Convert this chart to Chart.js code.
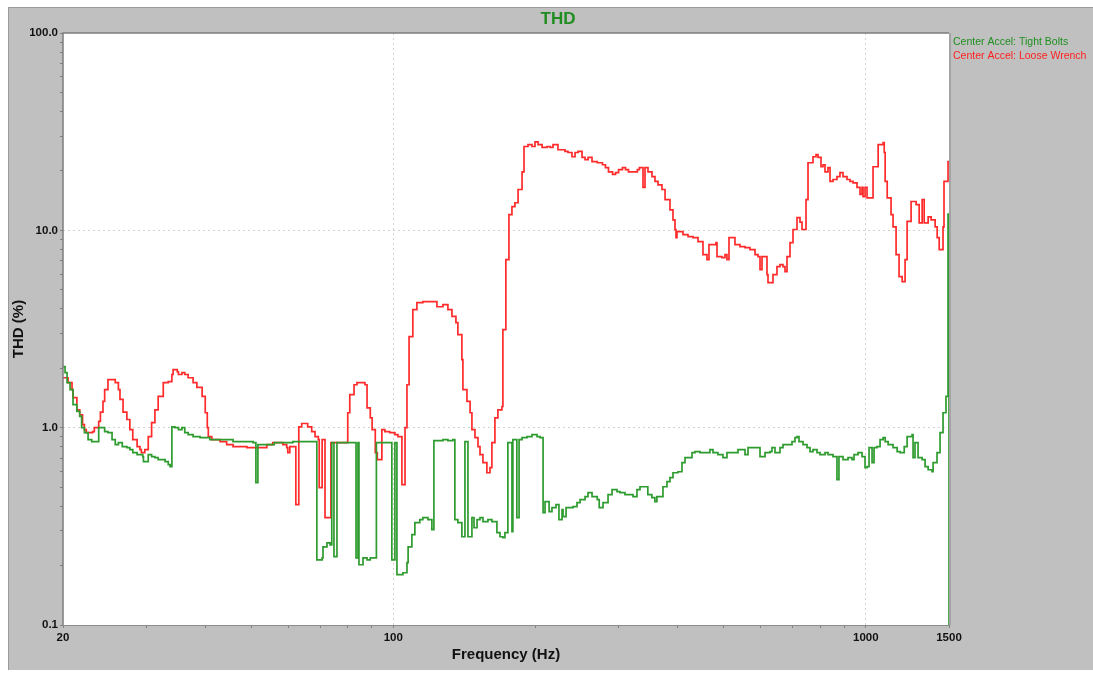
<!DOCTYPE html>
<html><head><meta charset="utf-8">
<script src="https://cdn.jsdelivr.net/npm/chart.js@4.4.1/dist/chart.umd.min.js"></script>
<style>html,body{margin:0;padding:0;background:#fff;overflow:hidden}#wrap{position:relative;width:1093px;height:674px}</style>
</head><body><div id="wrap"><canvas id="c" width="1093" height="674"></canvas></div>
<script>
const chartTitle = 'THD';
const xAxisTitle = 'Frequency (Hz)';
const yAxisTitle = 'THD (%)';
const seriesNames = ['Center Accel: Tight Bolts', 'Center Accel: Loose Wrench'];

const greenFreq = [20.0,20.2,20.4,20.7,21.0,21.4,21.7,21.9,22.2,22.6,23.0,23.8,24.5,24.9,25.4,25.8,26.2,26.7,27.3,27.7,28.1,28.7,29.5,29.6,30.3,30.8,31.3,31.8,32.9,33.4,33.7,34.0,34.5,35.1,35.7,36.2,36.8,37.7,39.0,40.9,45.8,50.5,51.2,51.7,56.0,61.3,68.9,70.7,71.0,72.4,73.5,74.1,74.9,76.0,83.4,84.2,84.6,86.3,88.0,89.4,92.1,99.3,100.8,101.8,104.8,106.9,107.5,109.5,111.1,113.8,115.5,118.4,120.7,121.9,127.4,130.5,133.7,135.0,137.0,139.7,141.8,143.9,146.7,148.2,150.4,152.6,154.8,158.6,161.7,165.7,168.2,170.6,172.3,174.8,178.3,179.1,182.6,184.6,187.3,191.9,196.6,201.5,204.5,207.5,209.5,213.7,216.7,221.0,224.2,227.6,228.7,232.1,240.1,244.8,248.5,254.6,258.3,263.4,270.2,272.8,277.9,284.8,290.4,297.5,301.8,309.3,321.6,327.9,332.8,345.7,352.6,357.8,361.3,372.2,379.5,385.1,390.8,400.4,408.3,414.4,428.7,435.0,445.8,468.0,474.9,486.5,498.6,508.4,536.5,555.1,563.3,597.2,612.0,627.0,633.1,642.4,658.3,668.0,697.9,708.2,715.2,722.2,736.4,750.9,762.0,773.2,788.4,800.0,819.8,831.9,852.3,869.0,877.4,894.9,917.0,935.1,944.3,962.8,981.8,996.3,1006,1016,1031,1041,1056,1072,1088,1099,1115,1142,1165,1182,1206,1223,1253,1259,1271,1290,1316,1335,1355,1381,1388,1415,1436,1457,1478,1493,1500];
const greenThd = [2.04,1.90,1.69,1.56,1.31,1.21,1.14,1.00,0.943,0.869,0.849,1.00,0.955,0.943,0.869,0.820,0.839,0.801,0.792,0.774,0.747,0.730,0.713,0.673,0.730,0.713,0.705,0.688,0.673,0.649,0.634,1.01,1.00,0.977,1.00,0.943,0.922,0.900,0.890,0.869,0.849,0.839,0.526,0.820,0.839,0.849,0.214,0.219,0.249,0.261,0.255,0.839,0.222,0.839,0.219,0.839,0.202,0.219,0.214,0.219,0.839,0.214,0.839,0.180,0.184,0.207,0.249,0.287,0.330,0.342,0.350,0.342,0.304,0.859,0.869,0.859,0.869,0.342,0.330,0.280,0.849,0.280,0.350,0.311,0.342,0.350,0.334,0.342,0.334,0.294,0.280,0.277,0.294,0.839,0.297,0.869,0.350,0.869,0.890,0.900,0.922,0.900,0.890,0.371,0.422,0.375,0.393,0.407,0.342,0.384,0.354,0.393,0.398,0.417,0.432,0.447,0.469,0.447,0.432,0.393,0.417,0.458,0.485,0.474,0.469,0.458,0.447,0.485,0.502,0.458,0.442,0.422,0.447,0.502,0.533,0.558,0.591,0.598,0.665,0.705,0.747,0.756,0.747,0.774,0.747,0.730,0.705,0.747,0.774,0.730,0.792,0.713,0.747,0.756,0.792,0.747,0.792,0.820,0.849,0.890,0.900,0.849,0.820,0.792,0.756,0.774,0.747,0.730,0.747,0.730,0.713,0.545,0.713,0.688,0.705,0.688,0.730,0.747,0.713,0.627,0.634,0.792,0.665,0.792,0.801,0.869,0.890,0.849,0.820,0.792,0.756,0.747,0.801,0.900,0.922,0.705,0.839,0.705,0.688,0.634,0.612,0.598,0.665,0.747,0.943,1.19,1.44,12.1,0.05];

const redFreq = [20.0,20.5,20.9,21.0,21.4,21.7,22.0,22.2,22.4,23.1,23.3,23.8,24.0,24.3,24.5,24.9,25.8,26.2,26.4,26.8,27.3,27.7,28.1,28.7,29.1,29.3,29.8,30.3,30.8,31.3,31.8,32.6,33.4,34.0,34.2,34.9,35.1,35.7,36.2,36.8,37.7,38.4,39.4,40.0,40.4,40.6,41.3,43.0,44.4,45.8,49.0,54.0,55.6,58.4,59.5,59.8,60.4,62.2,63.1,64.0,65.9,67.2,68.3,69.4,69.7,70.7,71.7,73.8,80.1,80.9,82.6,83.8,87.1,88.0,89.4,90.2,91.6,92.5,94.6,96.0,98.3,100.8,102.3,104.3,105.9,106.9,108.0,110.0,112.2,115.5,123.7,127.4,130.5,133.1,135.7,137.0,139.7,140.4,143.2,145.4,146.7,148.9,151.1,152.6,154.8,157.8,160.2,161.7,164.1,166.5,169.8,170.6,173.1,175.7,178.3,180.9,183.7,187.3,189.1,192.8,196.6,199.5,202.5,206.5,211.6,214.7,217.8,223.1,230.9,234.3,238.9,242.5,246.1,250.9,254.6,258.4,263.4,270.2,277.2,281.2,285.4,291.1,295.4,299.8,305.5,310.1,314.6,328.6,331.8,337.7,341.0,346.0,352.8,358.0,363.3,370.4,376.0,385.1,390.8,394.6,396.6,398.5,410.3,420.5,430.8,441.5,452.3,461.2,465.7,481.9,484.3,496.1,503.5,508.4,513.4,528.6,541.7,555.0,568.7,582.8,591.4,597.2,603.0,617.9,620.9,636.2,648.7,658.3,668.0,674.6,681.2,691.2,701.4,715.2,725.7,732.8,747.3,754.6,773.2,784.6,792.3,803.9,811.8,819.8,831.8,840.0,852.3,868.9,881.7,894.9,912.5,925.9,939.7,958.1,972.2,981.7,986.6,996.3,1006,1036,1062,1088,1094,1099,1110,1131,1142,1159,1176,1194,1211,1223,1247,1278,1297,1316,1329,1355,1375,1402,1416,1430,1457,1464,1493,1500];
const redThd = [1.79,1.69,1.56,1.42,1.23,1.16,1.035,0.977,0.944,0.955,1.00,1.075,1.20,1.36,1.56,1.75,1.69,1.56,1.39,1.20,1.10,0.977,0.869,0.801,0.774,0.747,0.774,0.900,1.06,1.23,1.44,1.69,1.71,1.86,1.97,1.92,1.86,1.90,1.86,1.79,1.69,1.60,1.44,1.19,1.00,0.900,0.869,0.849,0.820,0.801,0.792,0.820,0.839,0.820,0.792,0.747,0.801,0.407,1.01,1.05,1.01,0.955,0.900,0.869,0.497,0.869,0.350,0.839,1.19,1.47,1.65,1.69,1.65,1.26,1.12,0.977,0.747,0.688,0.977,0.955,0.944,0.922,0.900,0.514,1.00,1.65,2.89,3.96,4.30,4.35,4.10,4.20,3.96,3.66,3.41,2.96,2.21,1.56,1.36,1.19,0.977,0.890,0.801,0.730,0.665,0.591,0.627,0.839,1.12,1.23,1.28,3.14,7.10,12.0,13.2,13.8,16.1,19.8,26.6,27.2,26.6,28.1,27.2,26.3,26.6,26.3,27.2,25.6,25.1,24.8,23.6,24.8,25.1,23.4,22.8,23.4,22.3,22.0,21.5,20.8,19.8,19.2,19.6,20.3,20.8,20.3,19.8,20.3,20.8,16.5,20.8,19.8,18.7,17.7,17.0,16.1,14.3,12.7,11.3,10.1,9.19,9.85,9.51,9.29,9.19,8.76,7.53,7.10,8.46,8.66,7.36,7.27,7.53,7.10,9.19,8.46,8.27,8.17,7.98,7.53,7.36,6.32,7.36,5.96,5.43,5.96,6.55,6.70,6.55,6.18,7.36,8.66,10.1,11.6,11.0,10.1,14.3,22.0,23.6,24.2,23.4,21.0,21.5,19.8,20.8,17.7,18.1,18.7,19.6,18.7,18.1,17.7,17.4,16.5,15.2,16.5,14.8,16.5,14.6,21.0,27.2,27.8,24.8,17.7,14.6,12.0,10.4,7.53,5.83,5.50,7.10,11.1,14.0,13.5,10.9,14.3,10.9,11.7,11.3,10.4,9.19,7.98,10.4,17.7,22.3,22.3];

const xTickValues = [20,30,40,50,60,70,80,90,100,200,300,400,500,600,700,800,900,1000,1500];
const xTickLabels = [20,100,1000,1500];
const xGridValues = [100,1000];
const yTickValues = [0.1,0.2,0.3,0.4,0.5,0.6,0.7,0.8,0.9,1,2,3,4,5,6,7,8,9,10,20,30,40,50,60,70,80,90,100];
const yTickLabels = [0.1,1,10,100];
const yGridValues = [1,10];

const FONT = '"Liberation Sans", Arial, sans-serif';

const framePlugin = {
  id: 'frame',
  beforeDraw(chart) {
    const {ctx, chartArea: a} = chart;
    ctx.save();
    ctx.fillStyle = '#ffffff';
    ctx.fillRect(0, 0, chart.width, chart.height);
    ctx.fillStyle = '#c0c0c0';
    ctx.fillRect(8, 7, chart.width - 8, 663);
    ctx.fillStyle = '#9a9a9a';
    ctx.fillRect(8, 7, chart.width - 8, 1);
    ctx.fillRect(8, 7, 1, 663);
    ctx.fillStyle = '#ffffff';
    ctx.fillRect(a.left, a.top, a.right - a.left, a.bottom - a.top);
    ctx.restore();
  },
  afterDraw(chart) {
    const {ctx, chartArea: a} = chart;
    ctx.save();
    ctx.strokeStyle = '#7c7c7c';
    ctx.lineWidth = 1.5;
    ctx.beginPath();
    ctx.moveTo(a.left, a.bottom); ctx.lineTo(a.left, a.top); ctx.lineTo(a.right, a.top);
    ctx.stroke();
    ctx.strokeStyle = '#8c8c8c';
    ctx.lineWidth = 1;
    ctx.beginPath();
    ctx.moveTo(a.left, a.bottom + 0.5); ctx.lineTo(a.right, a.bottom + 0.5);
    ctx.stroke();
    ctx.strokeStyle = '#a4a4a4';
    ctx.lineWidth = 2;
    ctx.beginPath();
    ctx.moveTo(a.right + 1, a.top); ctx.lineTo(a.right + 1, a.bottom);
    ctx.stroke();
    // title
    ctx.fillStyle = '#1f8c1f';
    ctx.font = 'bold 17px ' + FONT;
    ctx.textAlign = 'center';
    ctx.textBaseline = 'middle';
    ctx.fillText(chartTitle, 558, 19);
    // legend
    ctx.font = '10.5px ' + FONT;
    ctx.textAlign = 'left';
    const legendColors = ['#1f8f1f', '#ff2020'];
    chart.data.datasets.forEach((ds, i) => {
      ctx.fillStyle = legendColors[i];
      ctx.fillText(ds.label, 953, 42 + i * 14);
    });
    ctx.restore();
  }
};

const tickFont = {family: FONT, size: 11.5, weight: 'bold'};

new Chart(document.getElementById('c'), {
  type: 'line',
  data: {
    datasets: [
      {label: seriesNames[0], data: greenFreq.map((f, i) => ({x: f, y: greenThd[i]})),
       borderColor: '#2e9b2e', borderWidth: 1.7, pointRadius: 0, stepped: true, fill: false},
      {label: seriesNames[1], data: redFreq.map((f, i) => ({x: f, y: redThd[i]})),
       borderColor: '#ff2b2b', borderWidth: 1.7, pointRadius: 0, stepped: true, fill: false}
    ]
  },
  options: {
    responsive: false,
    animation: false,
    events: [],
    layout: {padding: {left: 10, top: 33, right: 144, bottom: 4}},
    plugins: {legend: {display: false}, title: {display: false}, tooltip: {enabled: false}},
    scales: {
      x: {
        type: 'logarithmic', min: 20, max: 1500,
        afterBuildTicks: s => { s.ticks = xTickValues.map(v => ({value: v})); },
        afterFit: s => { s.height = 45; },
        ticks: {autoSkip: false, maxRotation: 0, minRotation: 0, padding: 3, color: '#111',
                font: tickFont, callback: v => xTickLabels.includes(v) ? String(v) : ''},
        grid: {color: c => (c.tick && xGridValues.includes(c.tick.value)) ? '#d2d2d2' : 'rgba(0,0,0,0)',
               tickColor: '#808080', tickLength: 3, drawTicks: true, lineWidth: 1},
        border: {display: false, dash: [2, 3]},
        title: {display: true, text: xAxisTitle, color: '#111',
                font: {family: FONT, size: 15, weight: 'bold'}, padding: {top: 0, bottom: 6}}
      },
      y: {
        type: 'logarithmic', min: 0.1, max: 100,
        afterBuildTicks: s => { s.ticks = yTickValues.map(v => ({value: v})); },
        afterFit: s => { s.width = 53; },
        ticks: {autoSkip: false, padding: 2, color: '#111', font: tickFont,
                callback: v => yTickLabels.includes(v) ? v.toFixed(1) : ''},
        grid: {color: c => (c.tick && yGridValues.includes(c.tick.value)) ? '#d2d2d2' : 'rgba(0,0,0,0)',
               tickColor: '#808080', tickLength: 3, drawTicks: true, lineWidth: 1},
        border: {display: false, dash: [2, 3]},
        title: {display: true, text: yAxisTitle, color: '#111',
                font: {family: FONT, size: 15, weight: 'bold'}, padding: {top: 0, bottom: 0}}
      }
    }
  },
  plugins: [framePlugin]
});
</script>
</body></html>
